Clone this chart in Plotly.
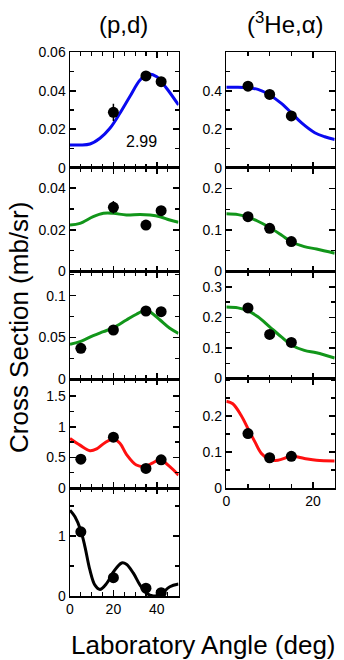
import plotly.graph_objects as go

W, H = 344, 660
FONT = "Liberation Sans, Arial, Helvetica, sans-serif"

# ---------------- data: (p,d) column ----------------
pd_angles = [5, 20, 35, 42]

pd1_x = [20, 35, 42]
pd1_y = [0.0288, 0.0477, 0.0447]
pd1_err = [0.0045, 0.001, 0.001]
pd1_cx = [0, 4.6, 9.2, 13.8, 18.4, 23, 27.6, 32.3, 36.1, 40, 44.5, 50]
pd1_cy = [0.0118, 0.0118, 0.0123, 0.0153, 0.0205, 0.0283, 0.037, 0.0456, 0.0487, 0.0473, 0.0413, 0.0326]

pd2_x = [20, 35, 42]
pd2_y = [0.0308, 0.0223, 0.0292]
pd2_err = [0.003, 0.001, 0.001]
pd2_cx = [0, 4.6, 10.7, 15.4, 20, 26, 32.3, 36.9, 41.5, 46, 50]
pd2_cy = [0.0223, 0.0231, 0.0263, 0.0279, 0.0279, 0.0271, 0.0274, 0.0271, 0.0263, 0.0247, 0.0236]

pd3_y = [0.0368, 0.0588, 0.0816, 0.0808]
pd3_err = [0.004, 0.002, 0.002, 0.002]
pd3_cx = [0, 4.6, 10.7, 15.4, 20, 26, 30.6, 35.3, 38.4, 41.5, 46, 50]
pd3_cy = [0.0416, 0.0448, 0.052, 0.0568, 0.0616, 0.0708, 0.0777, 0.0828, 0.0777, 0.0708, 0.0608, 0.0548]

pd4_y = [0.47, 0.83, 0.32, 0.46]
pd4_err = [0.03, 0.03, 0.03, 0.03]
pd4_cx = [0, 4.6, 9.2, 12.3, 16.1, 20, 23, 26, 30.6, 34.4, 38.2, 41.5, 46, 50]
pd4_cy = [0.81, 0.70, 0.61, 0.64, 0.74, 0.80, 0.73, 0.55, 0.375, 0.35, 0.41, 0.46, 0.35, 0.21]

pd5_y = [1.07, 0.305, 0.13, 0.055]
pd5_err = [0.05, 0.03, 0.02, 0.02]
pd5_cx = [0, 2.3, 4.9, 6.9, 9.2, 11.5, 13.8, 16.9, 20, 23.8, 26, 29.2, 32.3, 35.3, 38.4, 41.5, 46, 50]
pd5_cy = [1.43, 1.32, 1.10, 0.82, 0.43, 0.18, 0.11, 0.21, 0.40, 0.55, 0.53, 0.38, 0.18, 0.045, 0.0, 0.02, 0.155, 0.2]

# ---------------- data: (3He,alpha) column ----------------
ha_angles = [5, 10, 15]

ha1_y = [0.424, 0.381, 0.269]
ha1_cx = [0, 2.7, 5, 7.3, 10, 12.7, 15.1, 17.3, 20.4, 22.7, 25]
ha1_cy = [0.418, 0.418, 0.415, 0.407, 0.378, 0.334, 0.283, 0.234, 0.182, 0.161, 0.147]

ha2_y = [0.132, 0.104, 0.072]
ha2_cx = [0, 2.7, 5, 7.3, 10, 12.7, 15.1, 18, 20.8, 25]
ha2_cy = [0.139, 0.137, 0.131, 0.121, 0.106, 0.088, 0.071, 0.060, 0.054, 0.044]

ha3_y = [0.231, 0.144, 0.118]
ha3_cx = [0, 2.7, 5, 7.3, 10, 12.7, 15.1, 18, 20.8, 25]
ha3_cy = [0.234, 0.231, 0.221, 0.202, 0.169, 0.136, 0.109, 0.092, 0.084, 0.067]

ha4_y = [0.151, 0.084, 0.088]
ha4_cx = [0, 1.5, 3.4, 5, 6.6, 8.1, 10, 11.9, 15.1, 18, 20.8, 25]
ha4_cy = [0.241, 0.234, 0.202, 0.165, 0.128, 0.096, 0.079, 0.077, 0.088, 0.082, 0.077, 0.075]

# ---------------- tick labels ----------------
pd_xticks = [0, 20, 40]
ha_xticks = [0, 20]
pd1_yticks = [0, 0.02, 0.04, 0.06]
pd2_yticks = [0, 0.02, 0.04]
pd3_yticks = [0, 0.05, 0.1]
pd4_yticks = [0, 0.5, 1, 1.5]
pd5_yticks = [0, 1]
ha1_yticks = [0, 0.2, 0.4]
ha2_yticks = [0, 0.1, 0.2]
ha3_yticks = [0, 0.1, 0.2, 0.3]
ha4_yticks = [0, 0.1, 0.2]

BLUE = "#0a0af0"
GREEN = "#12961a"
RED = "#ff1010"
BLACK = "#000000"

def py(p):
    return 1 - p / H

def px(p):
    return p / W

def minor_vals(step, hi, majors):
    out = []
    k = 0
    while k * step <= hi + 1e-9:
        v = round(k * step, 6)
        if all(abs(v - t) > 1e-9 for t in majors):
            out.append(v)
        k += 1
    return out

panels = [
    (pd1_x, pd1_y, pd1_err, pd1_cx, pd1_cy, BLUE, [0, 0.06], pd1_yticks, 0.01, "L", (52.3, 167.7)),
    (pd2_x, pd2_y, pd2_err, pd2_cx, pd2_cy, GREEN, [0, 0.0498], pd2_yticks, 0.01, "L", (167.7, 271.5)),
    (pd_angles, pd3_y, pd3_err, pd3_cx, pd3_cy, GREEN, [0, 0.129], pd3_yticks, 0.025, "L", (271.5, 379)),
    (pd_angles, pd4_y, pd4_err, pd4_cx, pd4_cy, RED, [0, 1.78], pd4_yticks, 0.25, "L", (379, 488)),
    (pd_angles, pd5_y, pd5_err, pd5_cx, pd5_cy, BLACK, [0, 1.8], pd5_yticks, 0.5, "L", (488, 596)),
    (ha_angles, ha1_y, None, ha1_cx, ha1_cy, BLUE, [0, 0.6], ha1_yticks, 0.1, "R", (52.3, 167.7)),
    (ha_angles, ha2_y, None, ha2_cx, ha2_cy, GREEN, [0, 0.25], ha2_yticks, 0.05, "R", (167.7, 271.5)),
    (ha_angles, ha3_y, None, ha3_cx, ha3_cy, GREEN, [0, 0.35], ha3_yticks, 0.05, "R", (271.5, 378.5)),
    (ha_angles, ha4_y, None, ha4_cx, ha4_cy, RED, [0, 0.304], ha4_yticks, 0.05, "R", (378.5, 488)),
]

fig = go.Figure()
layout = {}
for i, (xs, ys, errs, cx, cy, col, yr, yt, ymin, side, (top, bot)) in enumerate(panels):
    n = i + 1
    xa = "x" if n == 1 else f"x{n}"
    ya = "y" if n == 1 else f"y{n}"
    fig.add_trace(go.Scatter(x=cx, y=cy, mode="lines", xaxis=xa, yaxis=ya,
                             line=dict(color=col, width=3, shape="spline", smoothing=1.0),
                             showlegend=False, hoverinfo="skip"))
    ekw = {}
    if errs is not None:
        ekw["error_y"] = dict(type="data", array=errs, visible=True, color="black", thickness=1.5, width=0)
    fig.add_trace(go.Scatter(x=xs, y=ys, mode="markers", xaxis=xa, yaxis=ya,
                             marker=dict(color="black", size=11), showlegend=False, **ekw))
    is_bottom = (n == 5) or (n == 9)
    if side == "L":
        xdom = [px(70), px(178.5)]
        xr = [0, 50]
        xtv = pd_xticks
    else:
        xdom = [px(226.3), px(334.7)]
        xr = [0, 25]
        xtv = ha_xticks
    xminv = minor_vals(5, xr[1], xtv)
    layout["xaxis" if n == 1 else f"xaxis{n}"] = dict(
        domain=xdom, range=xr, anchor=ya, showgrid=False, zeroline=False,
        showline=True, linecolor="black", linewidth=1.5, mirror="ticks",
        ticks="inside", ticklen=6, tickwidth=1.5, tickcolor="black",
        tickvals=xtv, showticklabels=is_bottom,
        minor=dict(tickvals=xminv, ticks="inside", ticklen=4, tickwidth=1.2, tickcolor="black"),
        tickfont=dict(family=FONT, size=14, color="black"), automargin=False, fixedrange=True,
    )
    yminv = minor_vals(ymin, yr[1], yt)
    layout["yaxis" if n == 1 else f"yaxis{n}"] = dict(
        domain=[py(bot), py(top)], range=yr, anchor=xa, showgrid=False, zeroline=False,
        showline=True, linecolor="black", linewidth=1.5, mirror="ticks",
        ticks="inside", ticklen=6, tickwidth=1.5, tickcolor="black",
        tickvals=yt, minor=dict(tickvals=yminv, ticks="inside", ticklen=4, tickwidth=1.2, tickcolor="black"),
        tickfont=dict(family=FONT, size=14, color="black"), automargin=False, fixedrange=True,
    )

annotations = [
    dict(text="(p,d)", x=px(123), y=py(25), xref="paper", yref="paper", showarrow=False,
         font=dict(family=FONT, size=24, color="black"), xanchor="center", yanchor="middle"),
    dict(text="(<sup>3</sup>He,α)", x=px(285), y=py(23), xref="paper", yref="paper", showarrow=False,
         font=dict(family=FONT, size=24, color="black"), xanchor="center", yanchor="middle"),
    dict(text="Cross Section (mb/sr)", x=px(19), y=py(328), xref="paper", yref="paper", showarrow=False,
         textangle=-90, font=dict(family=FONT, size=26, color="black"), xanchor="center", yanchor="middle"),
    dict(text="Laboratory Angle (deg)", x=px(203), y=py(645), xref="paper", yref="paper", showarrow=False,
         font=dict(family=FONT, size=26, color="black"), xanchor="center", yanchor="middle"),
    dict(text="2.99", x=33, y=0.0135, xref="x", yref="y", showarrow=False,
         font=dict(family=FONT, size=16, color="black"), xanchor="center", yanchor="middle"),
]

fig.update_layout(width=W, height=H, margin=dict(l=0, r=0, t=0, b=0),
                  paper_bgcolor="white", plot_bgcolor="white",
                  annotations=annotations, showlegend=False, **layout)
fig.write_html("out.html", config={"displayModeBar": False, "staticPlot": True},
               post_script="document.body.style.margin='0';document.body.style.padding='0';")
